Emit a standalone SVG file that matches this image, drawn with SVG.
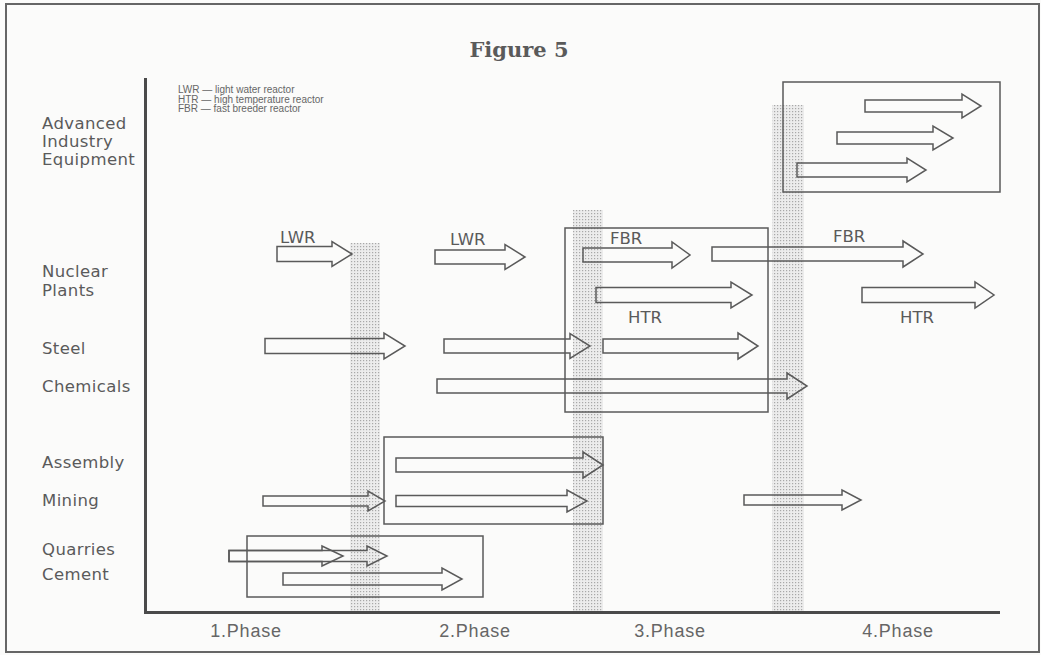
<svg xmlns="http://www.w3.org/2000/svg" width="1041" height="655" viewBox="0 0 1041 655">
<defs>
<pattern id="dots" width="3" height="3" patternUnits="userSpaceOnUse">
<rect width="3" height="3" fill="#ececec"/>
<rect x="0" y="0" width="1.2" height="1.2" fill="#a8a8a8"/>
</pattern>
<style>
.lbl{font-family:"DejaVu Sans",sans-serif;font-size:16.5px;fill:#5a5a5a;letter-spacing:0.4px}
.tag{font-family:"DejaVu Sans",sans-serif;font-size:16.5px;fill:#5a5a5a}
.leg{font-family:"Liberation Sans",Arial,sans-serif;font-size:10px;fill:#666}
.ph{font-family:"Liberation Sans",Arial,sans-serif;font-size:18px;fill:#666;letter-spacing:0.8px}
.arr{fill:none;stroke:#5a5a5a;stroke-width:1.5;stroke-linejoin:miter}
.box{fill:none;stroke:#5a5a5a;stroke-width:1.5}
.band{fill:url(#dots)}
</style>
</defs>
<rect x="0" y="0" width="1041" height="655" fill="#fbfbfa"/>
<rect x="6" y="4" width="1033" height="648" fill="none" stroke="#666" stroke-width="2"/>
<text x="519" y="57" text-anchor="middle" font-family="DejaVu Serif,serif" font-weight="bold" font-size="21" fill="#5a5a5a">Figure 5</text>
<g id="legend">
<text class="leg" x="178" y="93">LWR — light water reactor</text>
<text class="leg" x="178" y="102.5">HTR — high temperature reactor</text>
<text class="leg" x="178" y="112">FBR — fast breeder reactor</text>
</g>
<g id="bands">
<rect class="band" x="350" y="243" width="30" height="369"/>
<rect class="band" x="573" y="210" width="30" height="402"/>
<rect class="band" x="772" y="105" width="32" height="507"/>
</g>
<g id="axes" stroke="#4a4a4a" stroke-width="3" fill="none">
<path d="M145.5,78 V612.5 H1000"/>
</g>
<g id="row-labels">
<text class="lbl" x="42" y="129">Advanced</text>
<text class="lbl" x="42" y="147">Industry</text>
<text class="lbl" x="42" y="165">Equipment</text>
<text class="lbl" x="42" y="277">Nuclear</text>
<text class="lbl" x="42" y="296">Plants</text>
<text class="lbl" x="42" y="354">Steel</text>
<text class="lbl" x="42" y="392">Chemicals</text>
<text class="lbl" x="42" y="468">Assembly</text>
<text class="lbl" x="42" y="506">Mining</text>
<text class="lbl" x="42" y="555">Quarries</text>
<text class="lbl" x="42" y="580">Cement</text>
</g>
<g id="phase-labels">
<text class="ph" x="246" y="637" text-anchor="middle">1.Phase</text>
<text class="ph" x="475" y="637" text-anchor="middle">2.Phase</text>
<text class="ph" x="670" y="637" text-anchor="middle">3.Phase</text>
<text class="ph" x="898" y="637" text-anchor="middle">4.Phase</text>
</g>
<g id="box-advanced"><rect class="box" x="783" y="82" width="217" height="110"/></g>
<g id="box-phase3"><rect class="box" x="565" y="228" width="203" height="184"/></g>
<g id="box-assembly"><rect class="box" x="384" y="437" width="219" height="87"/></g>
<g id="box-quarries"><rect class="box" x="247" y="536" width="236" height="61"/></g>
<g id="arrow-labels">
<text class="tag" x="280" y="243">LWR</text>
<text class="tag" x="450" y="245">LWR</text>
<text class="tag" x="610" y="244">FBR</text>
<text class="tag" x="833" y="242">FBR</text>
<text class="tag" x="628" y="323">HTR</text>
<text class="tag" x="900" y="323">HTR</text>
</g>
<g id="connectors">
<path class="arr" d="M865,100 H962 V94 L981,106 L962,118 V112 H865 Z"/>
<path class="arr" d="M837,132 H933 V126 L953,138 L933,150 V144 H837 Z"/>
<path class="arr" d="M797,163 H907 V158 L926,170 L907,182 V177 H797 Z"/>
<path class="arr" d="M277,246.5 H332 V241.5 L352,254 L332,266.5 V261.5 H277 Z"/>
<path class="arr" d="M435,250 H505 V244.5 L525,257 L505,269.5 V264 H435 Z"/>
<path class="arr" d="M583,248 H672 V242 L690,255 L672,268 V262 H583 Z"/>
<path class="arr" d="M712,247 H903 V241 L923,254 L903,267 V261 H712 Z"/>
<path class="arr" d="M596,287.5 H731 V282 L752,295 L731,308 V302.5 H596 Z"/>
<path class="arr" d="M862,287.5 H975 V282 L994,295 L975,308 V302.5 H862 Z"/>
<path class="arr" d="M265,338.5 H384 V333 L405,346 L384,359 V353.5 H265 Z"/>
<path class="arr" d="M444,339 H570 V333.5 L590,346 L570,358.5 V353 H444 Z"/>
<path class="arr" d="M603,339 H738 V333 L758,346 L738,359 V353 H603 Z"/>
<path class="arr" d="M437,379 H787 V373 L807,386 L787,399 V393 H437 Z"/>
<path class="arr" d="M396,458 H583 V452 L603,465 L583,478 V472 H396 Z"/>
<path class="arr" d="M263,496 H368 V491 L385,501 L368,511 V506 H263 Z"/>
<path class="arr" d="M396,495.5 H567 V490 L587,501 L567,512 V506.5 H396 Z"/>
<path class="arr" d="M744,495 H842 V490 L861,500 L842,510 V505 H744 Z"/>
<path class="arr" d="M229,550.5 H367 V546 L387,556 L367,566 V561.5 H229 Z"/>
<path class="arr" d="M229,550.5 H322 V546 L343,556 L322,566 V561.5 H229 Z"/>
<path class="arr" d="M283,573 H442 V568 L462,579 L442,590 V585 H283 Z"/>
</g>
</svg>
